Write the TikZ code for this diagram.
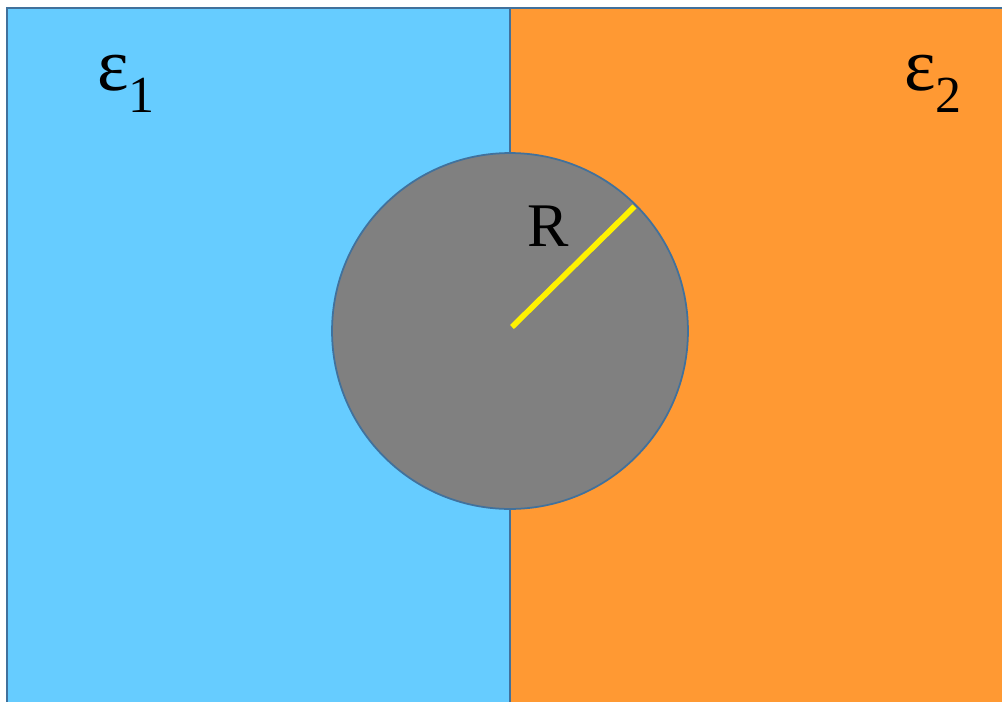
\documentclass[tikz,border=0pt]{standalone}
\usepackage{fontspec}
\setmainfont{Liberation Serif}
\definecolor{mediumone}{HTML}{66CCFF}
\definecolor{mediumtwo}{HTML}{FF9933}
\definecolor{edgeblue}{HTML}{41719C}
\newcommand{\epslabel}[1]{{\fontsize{42.7}{44}\selectfont ε}\raisebox{-0.44cm}{\fontsize{29.6}{31}\selectfont #1}}
\begin{document}
\begin{tikzpicture}[
  x=0.02cm, y=-0.02cm,
  region/.style={draw=edgeblue, line width=1pt},
  sphere/.style={circle, draw=edgeblue, line width=1pt, fill=gray, minimum size=7.12cm, inner sep=0pt},
  radiusline/.style={yellow, line width=3.2pt},
  lbl/.style={inner sep=0pt, anchor=base west}
]
  \useasboundingbox (0,0) rectangle (1002,701);
  % media
  \begin{scope}
    \clip (0,0) rectangle (1002,701);
    \fill[mediumone] (7,8) rectangle (510,720);
    \fill[mediumtwo] (510,8) rectangle (1020,720);
    \draw[region] (7,720) -- (7,8) -- (1020,8);
    \draw[region] (510,8) -- (510,720);
  \end{scope}
  % sphere
  \node[sphere] (ball) at (510,331) {};
  \coordinate (ctr) at (512,327);
  \draw[radiusline, shorten >=1.5pt] (ctr) -- (ball.45);
  % labels
  \node[lbl] (eps1) at (97,90) {\epslabel{1}};
  \node[lbl] (eps2) at (904,90) {\epslabel{2}};
  \node[lbl, font=\fontsize{35.3}{37}\selectfont] (rlab) at (527,246) {R};
\end{tikzpicture}
\end{document}
